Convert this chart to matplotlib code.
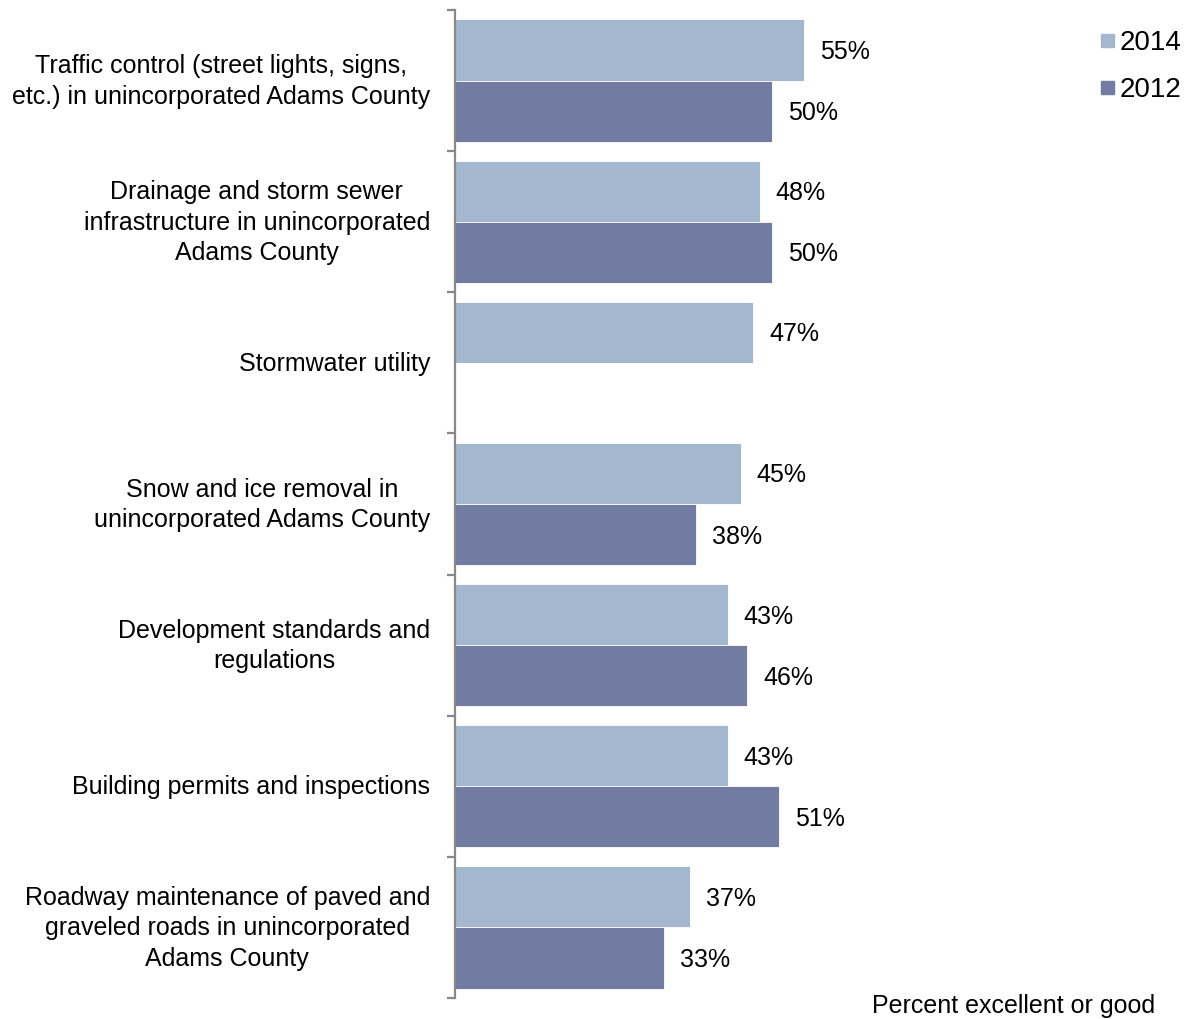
import matplotlib
matplotlib.use("Agg")
import matplotlib.pyplot as plt
import numpy as np

categories = [
    "Traffic control (street lights, signs,\netc.) in unincorporated Adams County",
    "Drainage and storm sewer\ninfrastructure in unincorporated\nAdams County",
    "Stormwater utility",
    "Snow and ice removal in\nunincorporated Adams County",
    "Development standards and\nregulations",
    "Building permits and inspections",
    "Roadway maintenance of paved and\ngraveled roads in unincorporated\nAdams County",
]
values_2014 = [55, 48, 47, 45, 43, 43, 37]
values_2012 = [50, 50, None, 38, 46, 51, 33]
series_names = ["2014", "2012"]
colors = ["#A3B8CE", "#727BA1"]

plt.rcParams['font.family'] = ['Liberation Sans', 'DejaVu Sans']
FS = 18

W, H = 1190, 1019
fig = plt.figure(figsize=(W / 100, H / 100), dpi=100)
ax_left, ax_right = 455, 1190
ax_top, ax_bot = 10, 998
ax = fig.add_axes([ax_left / W, (H - ax_bot) / H, (ax_right - ax_left) / W, (ax_bot - ax_top) / H])
px_per_pct = (804 - 455) / 55.0
ax.set_xlim(0, (ax_right - ax_left) / px_per_pct)
n = len(categories)
ax.set_ylim(0, n)
px_per_unit = (ax_bot - ax_top) / n

bh = 0.433
centers = np.array([n - 1 - i + 0.5 for i in range(n)])
for j, (vals, col) in enumerate(zip([values_2014, values_2012], colors)):
    for c, v in zip(centers, vals):
        if v is None:
            continue
        y = c + bh / 2 if j == 0 else c - bh / 2
        ax.barh(y, v, height=bh, color=col, edgecolor='white', linewidth=0.6)
        ax.text(v + 16 / px_per_pct, y - 2 / px_per_unit, f"{v}%", va='center', ha='left', fontsize=FS)

for c, lab in zip(centers, categories):
    ax.text(-25 / (ax_right - ax_left), c - 1 / px_per_unit, lab, transform=ax.get_yaxis_transform(),
            ha='right', va='center', multialignment='center', fontsize=FS, linespacing=1.33)

for s in ['top', 'right', 'bottom']:
    ax.spines[s].set_visible(False)
ax.spines['left'].set_color('#888888')
ax.spines['left'].set_linewidth(1.6)
ax.set_xticks([])
ax.set_yticks(np.arange(0, n + 1))
ax.set_yticklabels([])
ax.tick_params(axis='y', direction='out', length=6, width=1.6, color='#888888')

# legend
for k, (name, col) in enumerate(zip(series_names, colors)):
    yy = [41, 88][k]
    fig.patches.append(plt.Rectangle((1101 / W, (H - yy - 6) / H), 13 / W, 13 / H,
                                     transform=fig.transFigure, color=col, figure=fig))
    fig.text(1120 / W, (H - yy - 2) / H, name, ha='left', va='center', fontsize=20)

fig.text(1155 / W, (H - 1006) / H, "Percent excellent or good", ha='right', va='center', fontsize=FS)

fig.savefig("out.png", dpi=100)
